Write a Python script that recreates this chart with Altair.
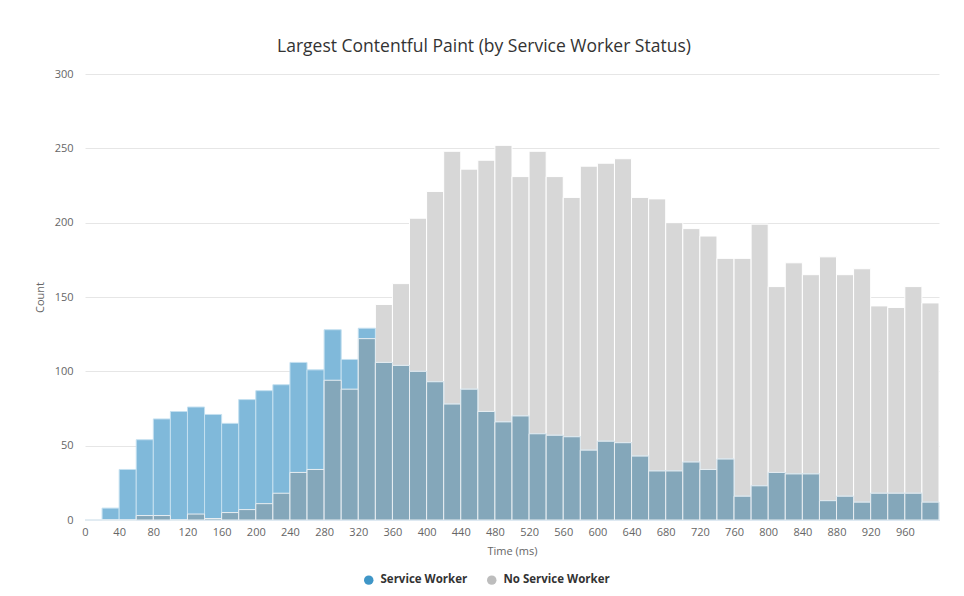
import altair as alt
import pandas as pd

bin_start = list(range(0, 1000, 20))
service_worker = [0, 8, 34, 54, 68, 73, 76, 71, 65, 81, 87, 91, 106, 101, 128, 108, 129, 106, 104, 100,
                  93, 78, 88, 73, 66, 70, 58, 57, 56, 47, 53, 52, 43, 33, 33, 39, 34, 41, 16, 23,
                  32, 31, 31, 13, 16, 12, 18, 18, 18, 12]
no_service_worker = [0, 0, 0, 3, 3, 0, 4, 1, 5, 7, 11, 18, 32, 34, 94, 88, 122, 145, 159, 203,
                     221, 248, 236, 242, 252, 231, 248, 231, 217, 238, 240, 243, 217, 216, 200, 196, 191, 176, 176, 199,
                     157, 173, 165, 177, 165, 169, 144, 143, 157, 146]
series_names = ["Service Worker", "No Service Worker"]
x_ticks = list(range(0, 1000, 40))
y_ticks = [0, 50, 100, 150, 200, 250, 300]

df = pd.DataFrame({
    "start": bin_start,
    "end": [b + 20 for b in bin_start],
    "sw": service_worker,
    "nsw": no_service_worker,
})

FONT = "Open Sans"

x_axis = alt.Axis(values=x_ticks, title="Time (ms)", grid=False, ticks=False,
                  domainColor="#ccd6eb", labelColor="#666666", labelFontSize=11,
                  labelPadding=6, titleColor="#666666", titleFontSize=11,
                  titleFontWeight="normal", titlePadding=8, labelFlush=False,
                  labelOverlap=False)
x_scale = alt.Scale(domain=[0, 1000], nice=False, zero=False)
y_scale = alt.Scale(domain=[0, 300], nice=False)
y_axis = alt.Axis(values=y_ticks, title="Count", grid=True, gridColor="#e6e6e6", domain=False,
                  ticks=False, labelColor="#666666", labelFontSize=11, labelPadding=12,
                  titleColor="#666666", titleFontSize=11, titleFontWeight="normal", titlePadding=9)


def xenc():
    return alt.X("start:Q", scale=x_scale, axis=x_axis)


base = alt.Chart(df)

gray = base.mark_bar(color="#d7d7d7", stroke="#ffffff", strokeWidth=1).encode(
    x=xenc(), x2="end:Q",
    y=alt.Y("nsw:Q", scale=y_scale, axis=y_axis), y2=alt.datum(0),
)
blue = base.mark_bar(color="#80b9da", stroke="#c4e0f0", strokeWidth=1).encode(
    x=xenc(), x2="end:Q", y=alt.Y("sw:Q", scale=y_scale, axis=y_axis), y2=alt.datum(0),
)
overlap = base.transform_calculate(ov="min(datum.sw, datum.nsw)").mark_bar(
    color="#84a7ba", stroke="#e8eef2", strokeWidth=1).encode(
    x=xenc(), x2="end:Q", y=alt.Y("ov:Q", scale=y_scale, axis=y_axis), y2=alt.datum(0),
)

legend_df = pd.DataFrame({"series": series_names, "start": [0, 0], "v": [0, 0]})
legend_layer = alt.Chart(legend_df).mark_point(filled=True, opacity=0).encode(
    x=xenc(), y=alt.Y("v:Q", scale=y_scale, axis=y_axis),
    color=alt.Color("series:N",
                    scale=alt.Scale(domain=series_names, range=["#3f96c7", "#bdbdbd"]),
                    legend=alt.Legend(title=None, orient="none", direction="horizontal",
                                      legendX=278, legendY=500, symbolType="circle",
                                      symbolSize=90, symbolOpacity=1, symbolStrokeWidth=0,
                                      labelFontSize=11.5, labelFontWeight="bold",
                                      labelColor="#333333", labelFont=FONT,
                                      columnPadding=18, labelOffset=6)),
)

chart = alt.layer(gray, blue, overlap, legend_layer).properties(
    width=854, height=446,
    autosize=alt.AutoSizeParams(type="none"),
    padding={"left": 77, "top": 66, "right": 17, "bottom": 68},
    title=alt.TitleParams("Largest Contentful Paint (by Service Worker Status)",
                          fontSize=17.5, fontWeight="normal", color="#333333", font=FONT,
                          anchor="middle", offset=13, dx=-28),
).configure(font=FONT).configure_view(stroke=None).configure_axisX(labelOverlap=False)

chart.save("out.html", embed_options={"renderer": "svg", "actions": False})
